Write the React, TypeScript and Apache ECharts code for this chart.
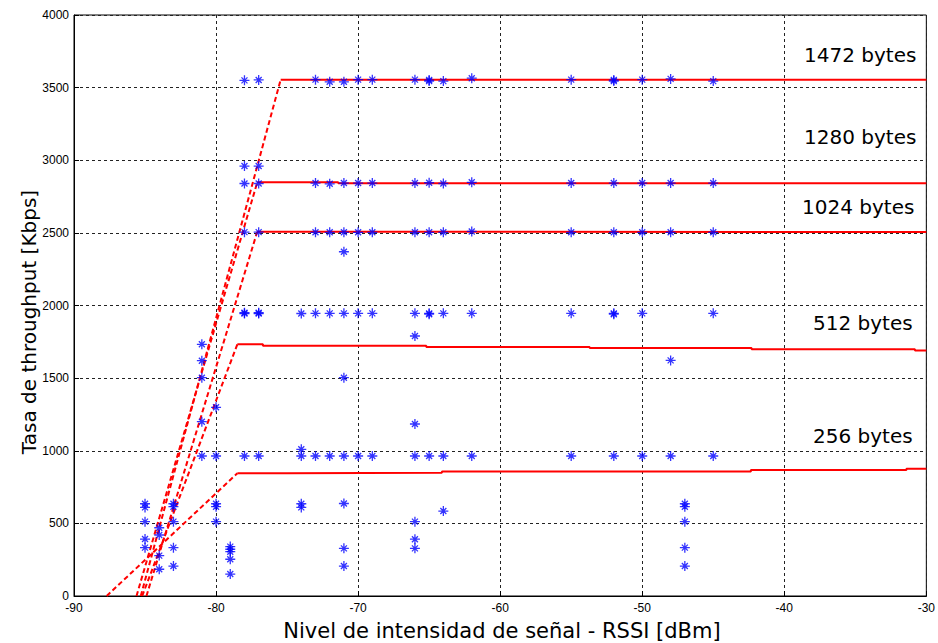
import React, { useEffect, useRef } from "react";
import * as echarts from "echarts";

// RSSI [dBm], throughput [Kbps] measured points
const measuredPoints: [number, number][] = [
  [-85, 610], [-85, 635], [-85, 512], [-85, 392], [-85, 333],
  [-84, 470], [-84, 420], [-84, 278], [-84, 184],
  [-83, 615], [-83, 635], [-83, 512], [-83, 333], [-83, 206],
  [-81, 1733], [-81, 1620], [-81, 1503], [-81, 1200], [-81, 964],
  [-80, 1299], [-80, 964], [-80, 615], [-80, 635], [-80, 512],
  [-79, 340], [-79, 322], [-79, 305], [-79, 253], [-79, 151],
  [-78, 3550], [-78, 2960], [-78, 2840], [-78, 2505], [-78, 1945], [-78, 1950], [-78, 964],
  [-77, 3553], [-77, 2960], [-77, 2840], [-77, 2505], [-77, 1945], [-77, 1950], [-77, 964],
  [-74, 1945], [-74, 1010], [-74, 964], [-74, 610], [-74, 635],
  [-73, 3555], [-73, 2843], [-73, 2504], [-73, 1946], [-73, 964],
  [-72, 3540], [-72, 2838], [-72, 2504], [-72, 1946], [-72, 964],
  [-71, 3540], [-71, 2843], [-71, 2504], [-71, 2370], [-71, 1946], [-71, 1503], [-71, 964], [-71, 637], [-71, 328], [-71, 206],
  [-70, 3555], [-70, 2843], [-70, 2504], [-70, 1946], [-70, 964],
  [-69, 3555], [-69, 2843], [-69, 2504], [-69, 1946], [-69, 964],
  [-66, 3555], [-66, 2843], [-66, 2504], [-66, 1946], [-66, 1790], [-66, 1184], [-66, 964], [-66, 512], [-66, 391], [-66, 328],
  [-65, 3545], [-65, 3552], [-65, 2845], [-65, 2504], [-65, 1946], [-65, 1940], [-65, 964],
  [-64, 3545], [-64, 2840], [-64, 2504], [-64, 1946], [-64, 964], [-64, 585],
  [-62, 3565], [-62, 2848], [-62, 2510], [-62, 1946], [-62, 964],
  [-55, 3555], [-55, 2843], [-55, 2504], [-55, 1946], [-55, 964],
  [-52, 3545], [-52, 3552], [-52, 2843], [-52, 2504], [-52, 1946], [-52, 1940], [-52, 964],
  [-50, 3555], [-50, 2843], [-50, 2504], [-50, 1946], [-50, 964],
  [-48, 3560], [-48, 2843], [-48, 2504], [-48, 1622], [-48, 964],
  [-47, 615], [-47, 635], [-47, 512], [-47, 333], [-47, 206],
  [-45, 3545], [-45, 2843], [-45, 2504], [-45, 1946], [-45, 964],
];

// Fitted curves: dashed ramp + solid saturation level
const ramp1472: [number, number][] = [[-85.3, 0], [-75.45, 3555]];
const flat1472: [number, number][] = [[-75.45, 3555], [-30, 3555]];
const ramp1280: [number, number][] = [[-85.6, 0], [-77.1, 2848]];
const flat1280: [number, number][] = [[-77.1, 2848], [-71.4, 2848], [-71.4, 2842], [-30, 2842]];
const ramp1024: [number, number][] = [[-84.9, 0], [-77.1, 2508]];
const flat1024: [number, number][] = [[-77.1, 2508], [-30, 2506]];
const ramp512: [number, number][] = [[-85.2, 0], [-78.5, 1733]];
const flat512: [number, number][] = [
  [-78.5, 1733], [-76.7, 1733], [-76.7, 1723], [-65.2, 1723], [-65.2, 1714],
  [-53.7, 1714], [-53.7, 1707], [-42.3, 1707], [-42.3, 1698], [-30.8, 1698], [-30.8, 1690], [-30, 1690],
];
const ramp256: [number, number][] = [[-87.7, 0], [-78.5, 845]];
const flat256: [number, number][] = [
  [-78.5, 845], [-75, 845], [-75, 849], [-64.1, 849], [-64.1, 858],
  [-42.35, 858], [-42.35, 867], [-31.4, 867], [-31.4, 876], [-30, 876],
];

const sizeLabels = ["1472 bytes", "1280 bytes", "1024 bytes", "512 bytes", "256 bytes"];
const xTitle = "Nivel de intensidad de señal - RSSI [dBm]";
const yTitle = "Tasa de throughput [Kbps]";

const labelPos: [number, number][] = [[804, 55], [804, 136.5], [802, 206.5], [813, 322.5], [813, 435.7]];

const STAR = "path://M0,-5L0,5M-5,0L5,0M-3,-3L3,3M-3,3L3,-3";

export default function App() {
  const ref = useRef<HTMLDivElement>(null);
  useEffect(() => {
    if (!ref.current) return;
    const chart = echarts.init(ref.current, undefined, { renderer: "svg" });
    const red = "#ff0000";
    const ramp = (data: [number, number][]) => ({
      type: "line",
      data,
      showSymbol: false,
      symbol: "none",
      silent: true,
      z: 3,
      lineStyle: { color: red, width: 2, type: [5, 3] },
    });
    const flat = (data: [number, number][]) => ({
      type: "line",
      data,
      showSymbol: false,
      symbol: "none",
      silent: true,
      z: 3,
      lineStyle: { color: red, width: 2, type: "solid" },
    });
    const axisFont = { fontFamily: "Liberation Sans, Arial, sans-serif", fontSize: 12, color: "#000" };
    chart.setOption({
      animation: false,
      backgroundColor: "#ffffff",
      grid: { left: 74, right: 8, top: 15, bottom: 47, show: true, borderColor: "#000", borderWidth: 1, backgroundColor: "#fff" },
      xAxis: {
        type: "value",
        min: -90,
        max: -30,
        interval: 10,
        axisLine: { show: true, lineStyle: { color: "#000", width: 1 } },
        axisTick: { show: true, inside: true, length: 5, lineStyle: { color: "#000" } },
        axisLabel: { ...axisFont, margin: 6, formatter: (v: number) => String(v) },
        splitLine: { show: true, lineStyle: { color: "#222", width: 1, type: [3, 3] } },
      },
      yAxis: {
        type: "value",
        min: 0,
        max: 4000,
        interval: 500,
        axisLine: { show: true, lineStyle: { color: "#000", width: 1 } },
        axisTick: { show: true, inside: true, length: 5, lineStyle: { color: "#000" } },
        axisLabel: { ...axisFont, margin: 5, formatter: (v: number) => String(v) },
        splitLine: { show: true, lineStyle: { color: "#222", width: 1, type: [3, 3] } },
      },
      series: [
        ramp(ramp1472), flat(flat1472),
        ramp(ramp1280), flat(flat1280),
        ramp(ramp1024), flat(flat1024),
        ramp(ramp512), flat(flat512),
        ramp(ramp256), flat(flat256),
        {
          type: "scatter",
          data: measuredPoints,
          symbol: STAR,
          symbolSize: 10,
          silent: true,
          z: 5,
          itemStyle: { color: "#0000ff", borderColor: "#0000ff", borderWidth: 1.3 },
        },
      ],
      graphic: [
        ...sizeLabels.map((t, i) => ({
          type: "text",
          x: labelPos[i][0],
          y: labelPos[i][1],
          silent: true,
          style: { text: t, fontFamily: "DejaVu Sans", fontSize: 20, fill: "#000", align: "left", verticalAlign: "middle" },
        })),
        {
          type: "text",
          x: 502,
          y: 631,
          silent: true,
          style: { text: xTitle, fontFamily: "DejaVu Sans", fontSize: 21, fill: "#000", align: "center", verticalAlign: "middle" },
        },
        {
          type: "text",
          x: 28.5,
          y: 322,
          rotation: Math.PI / 2,
          silent: true,
          style: { text: yTitle, fontFamily: "DejaVu Sans", fontSize: 20, fill: "#000", align: "center", verticalAlign: "middle" },
        },
      ],
    });
    return () => chart.dispose();
  }, []);
  return <div ref={ref} style={{ position: "fixed", left: 0, top: 0, width: 938, height: 643, background: "#fff" }} />;
}
